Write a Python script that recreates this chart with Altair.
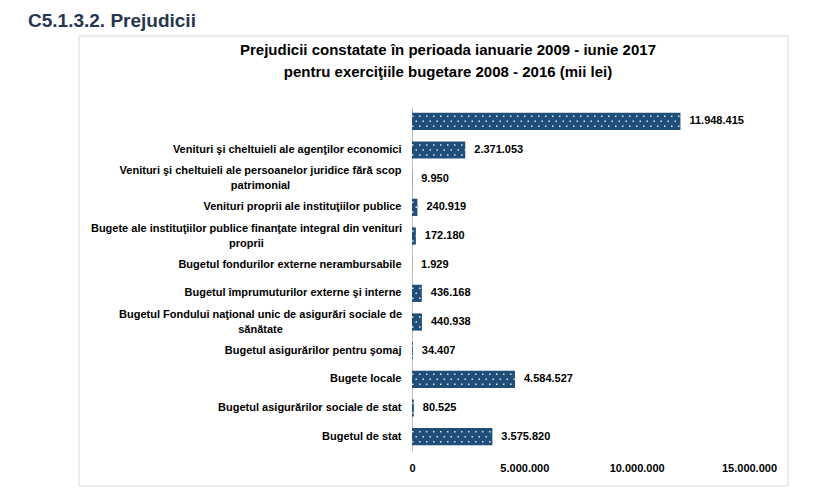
import altair as alt
import pandas as pd

# ---- data ----
categories = [
    "",
    "Venituri şi cheltuieli ale agenţilor economici",
    "Venituri şi cheltuieli ale persoanelor juridice fără scop|patrimonial",
    "Venituri proprii ale instituţiilor publice",
    "Bugete ale instituţiilor publice  finanţate integral din venituri|proprii",
    "Bugetul fondurilor externe nerambursabile",
    "Bugetul împrumuturilor externe şi interne",
    "Bugetul Fondului naţional unic de asigurări sociale de|sănătate",
    "Bugetul asigurărilor pentru şomaj",
    "Bugete locale",
    "Bugetul asigurărilor sociale de stat",
    "Bugetul de stat",
]
values = [11948415, 2371053, 9950, 240919, 172180, 1929, 436168, 440938,
          34407, 4584527, 80525, 3575820]
x_ticks = [0, 5000000, 10000000, 15000000]

heading = "C5.1.3.2. Prejudicii"
title_lines = ["Prejudicii constatate în perioada ianuarie 2009 - iunie 2017",
               "pentru exerciţiile bugetare 2008 - 2016 (mii lei)"]

df = pd.DataFrame({
    "cat": categories,
    "value": values,
    "label": [f"{v:,}".replace(",", ".") for v in values],
})

FONT = "Liberation Sans, Arial, Helvetica, sans-serif"
BAR = "#1f4e79"

x_scale = alt.Scale(domain=[0, 15000000], nice=False, zero=True)
y_scale = alt.Scale(paddingInner=0.4, paddingOuter=0.2)

x_axis = alt.Axis(
    values=x_ticks, title=None, grid=False, domain=False, ticks=False,
    labelFlush=False, labelPadding=11, labelFontSize=11, labelFontWeight="bold",
    labelColor="#000000", labelFont=FONT,
    labelExpr="replace(replace(replace(format(datum.value, ','), ',', '.'), ',', '.'), ',', '.')",
)

MULTI = "indexof(datum.value, '|') >= 0"
y_axis = alt.Axis(
    title=None, ticks=False, domain=True, domainColor="#bfbfbf", domainWidth=1,
    labelFontSize=11, labelFontWeight="bold", labelColor="#000000",
    labelFont=FONT, labelLimit=400, labelLineHeight=15,
    labelAlign={"condition": {"test": MULTI, "value": "center"}, "value": "right"},
    labelPadding={"condition": [
        {"test": "indexof(datum.value, '|patrimonial') >= 0", "value": 152},
        {"test": "indexof(datum.value, '|proprii') >= 0", "value": 166},
        {"test": "indexof(datum.value, '|sănătate') >= 0", "value": 152},
    ], "value": 11},
    labelOffset={"condition": {"test": MULTI, "value": -7.5}, "value": 0},
    labelExpr="split(datum.label, '|')",
)

base = alt.Chart(df)

bars = base.mark_bar(color=BAR).encode(
    x=alt.X("value:Q", scale=x_scale, axis=x_axis),
    y=alt.Y("cat:N", sort=categories, scale=y_scale, axis=y_axis),
)

def dots(offset, dash_offset):
    return base.transform_calculate(zero="0").mark_rule(
        color="#ffffff", opacity=0.85, strokeWidth=1.5,
        strokeDash=[1.5, 5.5], strokeDashOffset=dash_offset, yOffset=offset,
        strokeCap="butt",
    ).encode(
        x=alt.X("zero:Q"),
        x2="value:Q",
        y=alt.Y("cat:N", sort=categories),
    )

labels = base.mark_text(
    align="left", baseline="middle", dx=9, fontSize=11, fontWeight="bold",
    font=FONT, color="#000000",
).encode(
    x=alt.X("value:Q"),
    y=alt.Y("cat:N", sort=categories),
    text="label:N",
)

one = pd.DataFrame({"k": [1]})

box = alt.Chart(one).mark_rect(fill="#ffffff", fillOpacity=0, stroke="#d9d9d9", strokeWidth=1).encode(
    x=alt.value(-333), x2=alt.value(376), y=alt.value(-71), y2=alt.value(379)
)

head = alt.Chart(one).mark_text(
    text=heading, align="left", baseline="alphabetic", fontSize=19, fontWeight="bold",
    font="Liberation Sans Narrow, Arial Narrow, Liberation Sans, Arial, sans-serif",
    color="#26364f",
).encode(x=alt.value(-384), y=alt.value(-80))

t1 = alt.Chart(one).mark_text(
    text=title_lines[0], align="center", baseline="middle", fontSize=15, fontWeight="bold",
    font=FONT, color="#000000",
).encode(x=alt.value(36), y=alt.value(-57))

t2 = alt.Chart(one).mark_text(
    text=title_lines[1], align="center", baseline="middle", fontSize=15, fontWeight="bold",
    font=FONT, color="#000000",
).encode(x=alt.value(36), y=alt.value(-35))

chart = alt.layer(
    box, bars, dots(-5, 0), dots(0, 3.5), dots(5, 0), labels, head, t1, t2
).properties(
    width=337, height=344, autosize="none",
    padding={"left": 404, "top": 99, "right": 56, "bottom": 38},
    background="#ffffff",
).configure_view(stroke=None)

chart.save("out.html", embed_options={"renderer": "svg", "actions": False})
